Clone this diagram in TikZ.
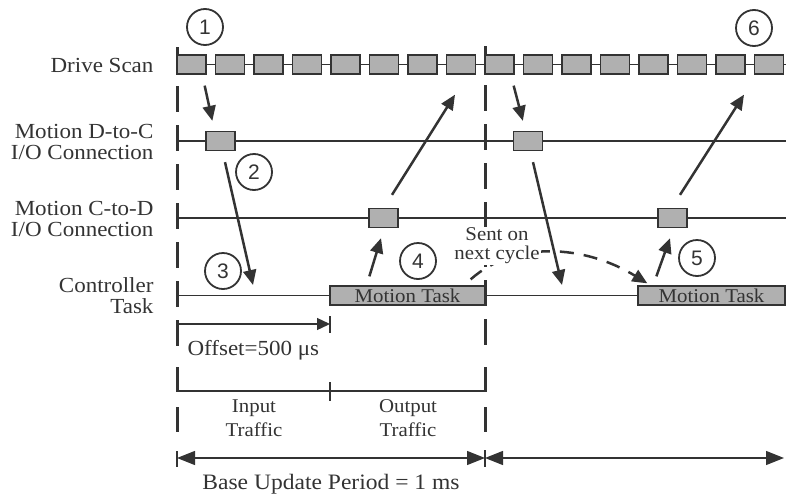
\documentclass[tikz,border=0pt]{standalone}
\usepackage{fontspec}
\setmainfont{Liberation Serif}[FakeStretch=1.07]
\setsansfont{Liberation Sans}
\usetikzlibrary{arrows.meta}
\definecolor{ink}{HTML}{333333}
\definecolor{boxgray}{HTML}{B0B0B0}

\begin{document}
\begin{tikzpicture}[x=1pt,y=-1pt,
    every node/.style={text=ink},
    lbl/.style={anchor=east,align=right,font=\fontsize{21.5}{21}\selectfont},
    rowline/.style={draw=ink,line width=1.3pt},
    bar/.style={draw=ink,line width=3pt},
    frame/.style={bar,dash pattern=on 26pt off 13pt},
    slot/.style={draw=ink,fill=boxgray,line width=1.3pt,minimum width=29pt,minimum height=19pt,inner sep=0pt},
    taskbox/.style={slot,font=\fontsize{19.5}{19.5}\selectfont},
    callout/.style={circle,draw=ink,line width=1.8pt,minimum size=36pt,inner sep=0pt,font=\sffamily\fontsize{21}{21}\selectfont},
    flow/.style={draw=ink,line width=2.5pt,-{Triangle[length=15pt,width=13pt]}},
    nextflow/.style={flow,dash pattern=on 14pt off 10pt},
    span/.style={draw=ink,line width=1.3pt,{Triangle[length=18pt,width=14pt]}-{Triangle[length=18pt,width=14pt]}}]
	\useasboundingbox (0,0) rectangle (786,498);

	% row labels
	\node[lbl] (lds) at (157,65) {Drive Scan};
	\node[lbl] (ldc) at (157,142) {Motion D-to-C\\I/O Connection};
	\node[lbl] (lcd) at (157,219) {Motion C-to-D\\I/O Connection};
	\node[lbl] (lct) at (157,296) {Controller\\Task};

	% time lines
	\draw[rowline] (177,64.5) -- (786,64.5);
	\draw[rowline] (177,141) -- (786,141);
	\draw[rowline] (177,218) -- (786,218);
	\draw[rowline] (177,295.5) -- (786,295.5);
	\foreach \y in {141,218,295.5}
		\draw[bar] (177,\y-10) -- (177,\y+10);
	\draw[bar] (177,47) -- (177,74);
	\draw[bar] (485,46) -- (485,74);
	\draw[frame] (177,47) -- (177,352);
	\draw[frame] (485,46) -- (485,352);
	\draw[bar] (177,367) -- (177,392);
	\draw[bar] (485,367) -- (485,392);
	\draw[bar] (177,407) -- (177,432);
	\draw[bar] (485,407) -- (485,432);

	\foreach \k in {0,...,15}
		\node[slot] (ds\k) at ({191.5+38.5*\k},64.5) {};
	\node[slot] (dc1) at (220.5,141) {};
	\node[slot] (dc2) at (528,141) {};
	\node[slot] (cd1) at (383.5,218) {};
	\node[slot] (cd2) at (672.5,218) {};
	\node[taskbox,minimum width=155pt] (mt1) at (407.5,295.5) {Motion Task};
	\node[taskbox,minimum width=147pt] (mt2) at (711.5,295.5) {Motion Task};

	\coordinate (ct1) at (253,285);
	\coordinate (ct2) at (562,285);

	% data flow
	\draw[flow] ([shift={(-2,11)}]ds0.south east) -- ([shift={(7,-10)}]dc1.north west);
	\draw[flow] ([shift={(4.5,11)}]dc1.south) -- (ct1);
	\draw[flow] ([shift={(40,-9)}]mt1.north west) -- ([shift={(-2.5,10)}]cd1.south);
	\draw[flow] ([shift={(8.5,-13)}]cd1.north) -- ([shift={(-6,20)}]ds7.south);
	\draw[flow] ([shift={(-1,11)}]ds8.south east) -- ([shift={(10,-10)}]dc2.north west);
	\draw[flow] ([shift={(5,11)}]dc2.south) -- (ct2);
	\draw[flow] ([shift={(19,-9)}]mt2.north west) -- ([shift={(-2.5,10)}]cd2.south);
	\draw[flow] ([shift={(7.5,-13)}]cd2.north) -- ([shift={(13.5,20)}]ds14.south);
	\draw[nextflow] ([shift={(-15,-6)}]mt1.north east) .. controls (515,240) and (585,245) .. ([shift={(10,-2)}]mt2.north west);
	\node[fill=white,inner sep=1pt,align=center,font=\fontsize{19.5}{19}\selectfont] (sent) at (497,246) {Sent on\\next cycle};

	\node[callout] (n1) at (205,27) {1};
	\node[callout] (n2) at (254,172) {2};
	\node[callout] (n3) at (223,271) {3};
	\node[callout] (n4) at (418,261) {4};
	\node[callout] (n5) at (697,258) {5};
	\node[callout] (n6) at (754,28) {6};

	% timing
	\coordinate (o0) at (177,324);
	\coordinate (o1) at (330,324);
	\draw[rowline,-{Triangle[length=13pt,width=12pt]}] (o0) -- (o1);
	\draw[rowline] (330,316) -- (330,333);
	\node[anchor=base west,font=\fontsize{21.5}{21.5}\selectfont] (off) at (184,355) {Offset=500 μs};

	\draw[rowline] (177,391) -- (485,391);
	\draw[rowline] (330,382) -- (330,401);
	\node[align=center,font=\fontsize{19.5}{24}\selectfont] (tin) at (254,418) {Input\\Traffic};
	\node[align=center,font=\fontsize{19.5}{24}\selectfont] (tout) at (408,418) {Output\\Traffic};

	\coordinate (p0) at (177,458);
	\coordinate (p1) at (485,458);
	\coordinate (p2) at (784,458);
	\draw[span] (p0) -- (p1);
	\draw[span] (p1) -- (p2);
	\draw[rowline] (177,451) -- (177,467);
	\draw[rowline] (485,450) -- (485,467);
	\node[anchor=base,font=\fontsize{22}{22}\selectfont] (base) at (331,489) {Base Update Period = 1 ms};

\end{tikzpicture}
\end{document}
